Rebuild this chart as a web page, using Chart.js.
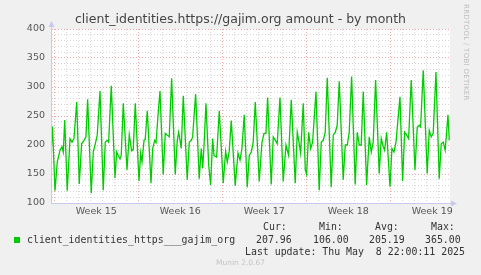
<!DOCTYPE html>
<html><head><meta charset="utf-8">
<script src="https://cdn.jsdelivr.net/npm/chart.js@4"></script>
<style>
html,body{margin:0;padding:0;background:#f0f0f0;}
#wrap{position:relative;width:481px;height:275px;overflow:hidden;background:#f0f0f0;}
canvas{position:absolute;left:0;top:0;}
.t{position:absolute;white-space:pre;}
.mono{font-family:"DejaVu Sans Mono",monospace;font-size:9.9px;line-height:12px;color:#333;}
</style></head><body>
<div id="wrap">
<canvas id="c" width="481" height="275"></canvas>
<div class="t" id="title" style="left:0;width:481px;text-align:center;top:11px;font-family:'DejaVu Sans';font-size:12.5px;line-height:15px;color:#444;">client_identities.https://gajim.org amount - by month</div>
<div class="t" style="left:462px;top:4px;writing-mode:vertical-rl;font-family:'DejaVu Sans';font-size:7px;color:#bdbdbd;letter-spacing:0.3px;">RRDTOOL / TOBI OETIKER</div>
<div class="t mono" style="left:263px;top:221px;">Cur:</div>
<div class="t mono" style="left:319px;top:221px;">Min:</div>
<div class="t mono" style="left:375px;top:221px;">Avg:</div>
<div class="t mono" style="left:431px;top:221px;">Max:</div>
<div class="t" style="left:14px;top:237px;width:6px;height:6px;background:#00cc00;"></div>
<div class="t mono" id="sname" style="left:27px;top:234px;"></div>
<div class="t mono" id="v0" style="left:256px;top:234px;"></div>
<div class="t mono" id="v1" style="left:313px;top:234px;"></div>
<div class="t mono" id="v2" style="left:369px;top:234px;"></div>
<div class="t mono" id="v3" style="left:425px;top:234px;"></div>
<div class="t mono" style="left:245px;top:246px;">Last update: Thu May  8 22:00:11 2025</div>
<div class="t" style="left:0;width:481px;text-align:center;top:258px;font-family:'DejaVu Sans';font-size:7.5px;line-height:10px;color:#c4c4c4;">Munin 2.0.67</div>
</div>
<script>
// Data: time in days since Mon 2025-04-07 00:00 (start of Week 15)
const days = [-0.23,-0.15,0.06,0.25,0.48,0.64,0.75,0.87,1.08,1.31,1.48,1.64,1.87,2.08,2.28,2.48,2.64,2.78,3.08,3.25,3.42,3.58,3.81,4.08,4.25,4.42,4.53,4.75,5.06,5.20,5.33,5.48,5.58,5.75,6.06,6.25,6.45,6.58,6.75,7.06,7.20,7.31,7.48,7.58,7.75,8.06,8.20,8.37,8.48,8.64,8.81,9.08,9.25,9.42,9.58,9.78,10.08,10.25,10.37,10.48,10.58,10.75,11.08,11.25,11.42,11.53,11.78,12.08,12.25,12.37,12.48,12.64,12.87,13.03,13.20,13.31,13.53,13.75,14.08,14.28,14.42,14.58,14.75,15.08,15.31,15.48,15.64,15.83,16.08,16.25,16.42,16.58,16.75,17.08,17.31,17.48,17.64,17.78,18.08,18.25,18.42,18.58,18.81,19.08,19.31,19.53,19.75,20.08,20.25,20.37,20.53,20.75,20.92,21.03,21.20,21.37,21.53,21.81,22.08,22.25,22.42,22.58,22.75,23.08,23.25,23.42,23.58,23.75,24.08,24.25,24.42,24.58,24.78,25.08,25.25,25.42,25.58,25.75,26.03,26.25,26.42,26.58,26.78,27.08,27.25,27.42,27.53,27.70,27.98,28.14,28.31,28.48,28.81,29.03,29.20,29.37,29.53,29.75,30.06,30.25,30.42,30.53,30.75,31.08,31.25,31.42,31.58,31.81,32.08,32.25,32.42,32.58,32.81,32.92];
const amount = [200,232,121,171,191,197,188,243,121,211,205,211,274,133,202,208,214,279,117,188,202,217,293,122,205,208,205,302,143,188,182,176,182,272,157,218,190,192,272,138,186,171,208,210,259,134,194,208,204,250,293,149,220,217,214,315,149,208,222,208,194,285,140,205,208,214,288,142,194,160,199,272,165,131,211,182,179,259,134,189,171,189,242,130,186,174,194,252,127,182,188,205,274,137,205,220,220,282,132,214,208,202,282,137,200,182,278,134,222,208,186,272,157,149,222,194,205,292,122,205,208,222,316,127,217,222,234,310,140,200,200,222,318,132,222,200,200,292,131,214,188,205,312,151,211,197,191,222,128,194,188,205,283,138,222,217,211,312,157,231,234,231,329,151,225,214,220,326,142,202,205,191,252,208];
const seriesName = "client_identities_https___gajim_org";
const legendValues = ["207.96","106.00","205.19","365.00"];
const weekNumbers = [15,16,17,18,19];
const yTickLabels = [100,150,200,250,300,350,400];

document.getElementById('sname').textContent = seriesName;
legendValues.forEach((v,i)=>document.getElementById('v'+i).textContent = v);

const points = days.map((d,i)=>({x:d,y:amount[i]}));
const RED = 'rgba(232,150,150,0.85)';
const GREY = 'rgba(205,205,205,0.8)';
const AXIS = '#c8c8f0';

const bgPlugin = {
  id:'bg',
  beforeDraw(chart){
    const {ctx,chartArea:a} = chart;
    ctx.save();ctx.fillStyle='#ffffff';
    ctx.fillRect(a.left,a.top,a.right-a.left,a.bottom-a.top);
    ctx.restore();
  },
  afterDraw(chart){
    const {ctx,chartArea:a} = chart;
    ctx.save();
    ctx.strokeStyle=AXIS;ctx.fillStyle=AXIS;ctx.lineWidth=1;
    ctx.beginPath();ctx.moveTo(a.left-0.5,a.bottom+0.5);ctx.lineTo(a.left-0.5,a.top-3);ctx.stroke();
    ctx.beginPath();ctx.moveTo(a.left-0.5,a.bottom+0.5);ctx.lineTo(a.right+2,a.bottom+0.5);ctx.stroke();
    ctx.beginPath();ctx.moveTo(a.left-0.5,a.top-8);ctx.lineTo(a.left-3.5,a.top-2);ctx.lineTo(a.left+2.5,a.top-2);ctx.closePath();ctx.fill();
    ctx.beginPath();ctx.moveTo(a.right+7,a.bottom+0.5);ctx.lineTo(a.right+1,a.bottom-2.5);ctx.lineTo(a.right+1,a.bottom+3.5);ctx.closePath();ctx.fill();
    ctx.restore();
  }
};

new Chart(document.getElementById('c'),{
  type:'line',
  data:{datasets:[{data:points,borderColor:'#00cc00',borderWidth:1.3,pointRadius:0,tension:0,fill:false}]},
  options:{
    responsive:false,animation:false,
    layout:{padding:{top:29,right:31,left:0,bottom:52}},
    plugins:{legend:{display:false},tooltip:{enabled:false},title:{display:false}},
    scales:{
      x:{type:'linear',min:-0.19,max:32.98,
        afterBuildTicks(s){
          const t=[];
          for(let d=0;d<=32;d++) t.push({value:d});
          weekNumbers.forEach((w,i)=>t.push({value:i*7+3.5}));
          t.sort((a,b)=>a.value-b.value);
          s.ticks=t;
        },
        afterFit(s){s.height=20;},
        grid:{drawTicks:false,lineWidth:1,
          color(c){const v=c.tick.value; if(!Number.isInteger(v)) return 'rgba(0,0,0,0)'; return v%7===0?RED:GREY;}},
        border:{display:false,dash:[1,2]},
        ticks:{autoSkip:false,maxRotation:0,padding:3,color:'#555',font:{family:'DejaVu Sans',size:9.5},
          callback(v){ if(Number.isInteger(v)) return ''; return 'Week '+weekNumbers[Math.floor(v/7)]; }}
      },
      y:{min:100,max:400,
        afterBuildTicks(s){const t=[];for(let v=100;v<=400;v+=10)t.push({value:v});s.ticks=t;},
        afterFit(s){s.width=52;},
        grid:{drawTicks:false,lineWidth:1,
          color(c){const v=c.tick.value; if(v===100) return 'rgba(0,0,0,0)'; return v%50===0?RED:GREY;}},
        border:{display:false,dash:[1,2]},
        ticks:{autoSkip:false,padding:7,color:'#555',font:{family:'DejaVu Sans',size:9.5},
          callback(v){ return yTickLabels.includes(v)?String(v):''; }}
      }
    }
  },
  plugins:[bgPlugin]
});
</script>
</body></html>
